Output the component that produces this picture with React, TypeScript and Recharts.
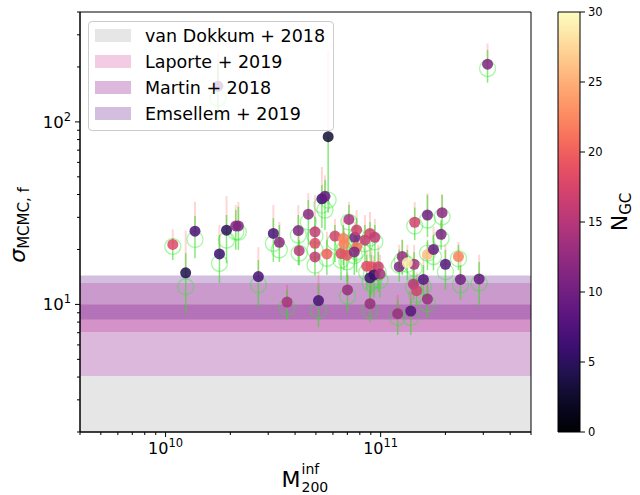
import React from 'react';
import { ScatterChart, Scatter, XAxis, YAxis, ErrorBar, ReferenceArea, Legend } from 'recharts';

// ---------- data ----------
// halo mass in units of 1e10
const massE10 = [1.08,1.37,1.24,1.78,1.92,2.12,2.18,1.75,2.70,3.17,3.38,3.67,4.14,4.18,4.61,4.95,4.95,4.95,5.14,5.33,5.51,5.70,5.62,6.13,6.54,6.70,6.75,6.97,7.01,7.12,7.59,7.73,7.73,7.54,8.45,8.92,9.40,8.61,9.06,9.75,8.92,9.31,9.93,8.92,12.2,12.6,12.0,13.8,14.3,14.4,14.2,14.7,15.8,16.5,16.5,16.5,17.6,19.1,19.3,20.0,23.0,23.5,28.7,31.4,13.3];
const sigma = [21.3,25.2,14.9,18.9,25.5,26.9,26.9,157,14.2,24.5,21.9,10.3,25.4,19.7,31.2,25.0,21.6,18.2,10.5,37.9,39.1,83,18.9,23.7,19.0,23.0,21.4,18.6,12.0,29.2,23.3,25.6,20.6,19.4,22.5,24.5,23.3,16.2,16.1,16.1,14.0,14.5,14.7,10.1,16.1,18.3,8.9,9.2,16.6,28.2,12.9,11.9,13.7,10.7,30.9,18.8,20.0,24.2,31.8,16.6,18.3,13.7,13.8,207,16.9];
const sigmaUpper = [25.8,36.5,25.4,27.2,39.2,35.0,36.4,241,20.6,35.0,28.3,12.8,35.0,25.6,40.7,39.7,27.2,22.5,15.0,56.6,51,248,25.0,29.4,24.0,29.0,26.2,23.0,15.0,36.4,28.3,32.9,25.0,23.7,30.9,32.1,29.4,19.9,20.4,21.2,17.9,18.5,18.7,12.8,21.2,22.7,11.3,11.7,21.2,36.4,16.4,15.0,18.7,14.0,40.7,22.0,26.6,28.3,40.2,21.2,22.0,18.7,18.7,269,21.2];
const nGC = [18,7,4,6,5,12,11,9,7,7,12,14,11,15,12,16,18,16,7,6,9,3,20,17,18,22,22,19,13,14,10,17,21,11,16,17,16,18,19,17,7,6,14,13,11,13,13,8,14,17,15,17,8,13,10,26,9,11,12,8,22,10,9,11,29];
const sigmaAlt = [20.8,22.7,12.5,16.8,22.5,25.0,24.9,135,12.8,21.6,19.9,9.7,24.0,19.1,28.3,23.7,19.9,16.4,9.3,35.0,32.9,37.3,17.9,22.0,17.5,22.0,19.9,17.1,11.1,28.3,22.0,23.7,19.4,18.5,21.5,23.1,22.0,15.0,14.7,15.0,13.1,13.6,13.6,9.3,16.4,17.5,8.5,8.5,15.8,26.9,12.5,11.3,12.5,10.1,29.0,19.1,18.3,23.0,30.2,15.1,17.8,12.8,13.1,196,16.6];
const sigmaAltLow = [17.5,17.9,8.9,13.1,16.8,19.9,19.9,102,9.7,17.1,17.1,8.2,16.4,16.4,21.2,21.2,17.1,14.3,7.5,26.2,25.6,31.8,14.5,17.1,13.6,16.4,15.4,13.3,9.0,21.2,17.1,18.7,15.0,14.5,17.1,17.9,17.1,12.0,11.3,11.7,10.6,10.9,10.9,8.0,13.3,14.5,6.8,6.8,12.8,22.5,10.6,9.8,10.6,8.4,23.4,15.4,15.4,19.9,22.5,12.0,15.4,10.6,9.9,164,13.6];
const sigmaAltHigh = [23.0,30.5,19.1,24.0,30.9,32.9,34.3,208,17.5,29.7,27.2,12.0,30.9,22.5,37.3,30.1,24.0,21.2,12.8,45.1,48.0,83,22.5,27.2,21.2,27.2,25.0,21.2,14.5,35.0,27.2,29.7,23.7,22.5,27.2,28.3,27.2,18.7,18.7,19.4,16.4,17.1,17.1,12.0,19.9,22.5,10.6,10.6,19.4,33.9,15.4,13.9,16.4,12.8,39.7,22.5,24.0,29.0,39.7,19.9,21.2,16.4,17.1,248,19.9];

const bandNames = ['van Dokkum + 2018', 'Laporte + 2019', 'Martin + 2018', 'Emsellem + 2019'];
const bandLow = [2, 7.07, 4.05, 8.27];
const bandHigh = [4.05, 13.1, 10.0, 14.4];
const bandColor = ['#808080', '#c71585', '#800080', '#6e2896'];
const bandAlpha = [0.2, 0.22, 0.28, 0.3];

const X_MIN = 4e9, X_MAX = 5e11, Y_MIN = 2, Y_MAX = 400;
const xTicks = [4e9,5e9,6e9,7e9,8e9,9e9,1e10,2e10,3e10,4e10,5e10,6e10,7e10,8e10,9e10,1e11,2e11,3e11,4e11,5e11];
const yTicks = [2,3,4,5,6,7,8,9,10,20,30,40,50,60,70,80,90,100,200,300,400];
const cbTicks = [0,5,10,15,20,25,30];
const N_MAX = 30;

const MAGMA = ['#000004','#07061c','#140e36','#251255','#3b0f70','#51127c','#641a80','#782281','#8c2981','#a1307e','#b73779','#cb3e71','#de4968','#ec5860','#f7705c','#fc8961','#fe9f6d','#feb77e','#fecf92','#fde7a9','#fcfdbf'];

function hex(c: string) { return [1,3,5].map(i => parseInt(c.slice(i, i+2), 16)); }
function magma(t: number) {
  const v = Math.max(0, Math.min(1, t)) * (MAGMA.length - 1);
  const i = Math.min(MAGMA.length - 2, Math.floor(v));
  const f = v - i;
  const a = hex(MAGMA[i]), b = hex(MAGMA[i+1]);
  const c = a.map((x, k) => Math.round(x + (b[k] - x) * f));
  return `rgb(${c[0]},${c[1]},${c[2]})`;
}

const pinkRows = massE10.map((m, i) => ({ m: m * 1e10, v: sigma[i], err: [0, sigmaUpper[i] - sigma[i]] }));
const greenRows = massE10.map((m, i) => ({ m: m * 1e10, v: sigmaAlt[i], err: [sigmaAlt[i] - sigmaAltLow[i], sigmaAltHigh[i] - sigmaAlt[i]] }));
const dotRows = massE10.map((m, i) => ({ m: m * 1e10, v: sigma[i], n: nGC[i] }));
const cbRows = [{ x: 0, y: 0 }, { x: 1, y: N_MAX }];

const FONT = 'DejaVu Sans';

const isMajor = (v: number) => Math.abs(Math.log10(v) - Math.round(Math.log10(v))) < 1e-6;

const XTick = (props: any) => {
  const { x, y, payload } = props;
  const v = payload.value;
  const major = isMajor(v);
  return (
    <g>
      <line x1={x} x2={x} y1={y} y2={y + (major ? 5 : 3)} stroke="#000" strokeWidth={1} />
      {major && (
        <text x={x} y={y + 22} textAnchor="middle" fontFamily={FONT} fontSize={16} fill="#000">
          <tspan>10</tspan>
          <tspan dy={-7} fontSize={11.5}>{Math.round(Math.log10(v))}</tspan>
        </text>
      )}
    </g>
  );
};

const YTick = (props: any) => {
  const { x, y, payload } = props;
  const v = payload.value;
  const major = isMajor(v);
  return (
    <g>
      <line x1={x - (major ? 5 : 3)} x2={x} y1={y} y2={y} stroke="#000" strokeWidth={1} />
      {major && (
        <text x={x - 9} y={y + 6} textAnchor="end" fontFamily={FONT} fontSize={16.5} fill="#000">
          <tspan>10</tspan>
          <tspan dy={-7} fontSize={11.5}>{Math.round(Math.log10(v))}</tspan>
        </text>
      )}
    </g>
  );
};

const CbTick = (props: any) => {
  const { x, y, payload } = props;
  return (
    <g>
      <line x1={x} x2={x + 5} y1={y} y2={y} stroke="#000" strokeWidth={1} />
      <text x={x + 8} y={y + 4} fontFamily={FONT} fontSize={11.5} fill="#000">{payload.value}</text>
    </g>
  );
};

const XLabel = (props: any) => {
  const vb = props.viewBox || { x: 80, y: 432, width: 451 };
  const cx = vb.x + vb.width / 2;
  return (
    <g fontFamily={FONT} fill="#000">
      <text x={cx - 24} y={487} fontSize={22}>M</text>
      <text x={cx - 4} y={474} fontSize={14}>inf</text>
      <text x={cx - 4} y={492} fontSize={14}>200</text>
    </g>
  );
};

const YLabel = () => (
  <text x={25} y={225} transform="rotate(-90, 25, 225)" textAnchor="middle" fontFamily={FONT} fill="#000">
    <tspan fontSize={22} fontStyle="italic">σ</tspan>
    <tspan fontSize={15} dy={4}>MCMC, f</tspan>
  </text>
);

const NLabel = () => (
  <text x={627} y={212} transform="rotate(-90, 627, 212)" textAnchor="middle" fontFamily={FONT} fill="#000">
    <tspan fontSize={22}>N</tspan>
    <tspan fontSize={15} dy={4}>GC</tspan>
  </text>
);

const LegendBox = () => (
  <div style={{ position: 'relative', width: 246, height: 110, boxSizing: 'border-box', border: '1px solid #cccccc', borderRadius: 4, background: 'rgba(255,255,255,0.8)', fontFamily: FONT, fontSize: 17.5, color: '#000' }}>
    {bandNames.map((name, i) => (
      <React.Fragment key={name}>
        <div style={{ position: 'absolute', left: 6, top: 7 + i * 26, width: 36, height: 13, background: bandColor[i], opacity: bandAlpha[i] }} />
        <div style={{ position: 'absolute', left: 56, top: 3 + i * 26, height: 22, lineHeight: '22px', whiteSpace: 'nowrap' }}>{name}</div>
      </React.Fragment>
    ))}
  </div>
);

const NoShape = () => <g />;
const GreenShape = (p: any) => (
  <circle cx={p.cx} cy={p.cy} r={8} fill="none" stroke="#22ee22" strokeOpacity={0.4} strokeWidth={1.3} />
);
const DotShape = (p: any) => (
  <circle cx={p.cx} cy={p.cy} r={5.5} fill={magma(p.payload.n / N_MAX)} fillOpacity={0.85} />
);

export default function App() {
  return (
    <div style={{ position: 'absolute', left: 0, top: 0, width: 640, height: 495, background: '#fff', overflow: 'hidden' }}>
      <div style={{ position: 'absolute', left: 0, top: 0 }}>
        <ScatterChart width={640} height={495} margin={{ top: 12, right: 109, bottom: 23, left: 20 }}>
          <XAxis dataKey="m" type="number" scale="log" domain={[X_MIN, X_MAX]} allowDataOverflow ticks={xTicks} interval={0}
            tick={<XTick />} tickLine={false} tickSize={0} tickMargin={0} height={40}
            axisLine={{ stroke: '#000', strokeWidth: 1 }} label={(p: any) => <XLabel {...p} />} />
          <YAxis dataKey="v" type="number" scale="log" domain={[Y_MIN, Y_MAX]} allowDataOverflow ticks={yTicks} interval={0}
            tick={<YTick />} tickLine={false} tickSize={0} tickMargin={0} width={60}
            axisLine={{ stroke: '#000', strokeWidth: 1 }} label={() => <YLabel />} />
          {bandNames.map((name, i) => (
            <ReferenceArea key={name} y1={bandLow[i]} y2={bandHigh[i]} x1={X_MIN} x2={X_MAX}
              fill={bandColor[i]} fillOpacity={bandAlpha[i]} stroke="none" ifOverflow="visible" />
          ))}
          <ReferenceArea x1={X_MIN} x2={X_MAX} y1={Y_MIN} y2={Y_MAX} fill="none" fillOpacity={0}
            stroke="#000" strokeWidth={1} ifOverflow="visible" />
          <Scatter name="pink" data={pinkRows} shape={<NoShape />} isAnimationActive={false} legendType="none">
            <ErrorBar dataKey="err" direction="y" width={0} stroke="#ff0000" strokeOpacity={0.16} strokeWidth={2} isAnimationActive={false} />
          </Scatter>
          <Scatter name="green" data={greenRows} shape={<GreenShape />} isAnimationActive={false} legendType="none">
            <ErrorBar dataKey="err" direction="y" width={0} stroke="#33dd22" strokeOpacity={0.6} strokeWidth={1.5} isAnimationActive={false} />
          </Scatter>
          <Scatter name="dots" data={dotRows} shape={<DotShape />} isAnimationActive={false} legendType="none" />
          <Legend layout="horizontal" verticalAlign="middle" align="center"
            wrapperStyle={{ position: 'absolute', left: 88, top: 21, width: 246, height: 110, margin: 0, padding: 0 }}
            content={() => <LegendBox />} />
        </ScatterChart>
      </div>
      <div style={{ position: 'absolute', left: 0, top: 0, pointerEvents: 'none' }}>
        <ScatterChart width={640} height={495} margin={{ top: 12, right: 20, bottom: 63, left: 558 }}>
          <defs>
            <linearGradient id="magmaGrad" x1="0" y1="1" x2="0" y2="0">
              {MAGMA.map((c, i) => (
                <stop key={i} offset={i / (MAGMA.length - 1)} stopColor={c} />
              ))}
            </linearGradient>
          </defs>
          <XAxis dataKey="x" type="number" domain={[0, 1]} allowDataOverflow hide />
          <YAxis dataKey="y" orientation="right" type="number" domain={[0, N_MAX]} allowDataOverflow ticks={cbTicks} interval={0} width={40}
            tick={<CbTick />} tickLine={false} tickSize={0} tickMargin={0} axisLine={false} label={() => <NLabel />} />
          <ReferenceArea x1={0} x2={1} y1={0} y2={N_MAX} fill="url(#magmaGrad)" fillOpacity={1} stroke="#000" strokeWidth={1} ifOverflow="visible" />
          <Scatter name="cb" data={cbRows} shape={<NoShape />} isAnimationActive={false} legendType="none" />
        </ScatterChart>
      </div>
    </div>
  );
}
